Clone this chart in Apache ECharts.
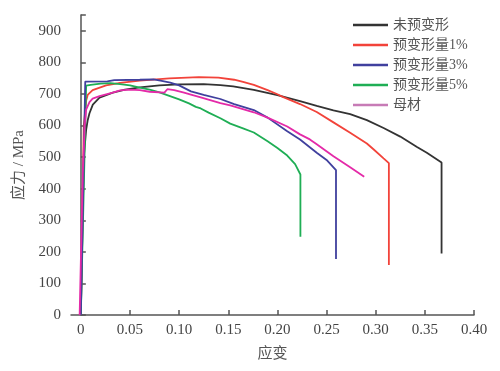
<!DOCTYPE html>
<html>
<head>
<meta charset="utf-8">
<script src="https://cdn.jsdelivr.net/npm/echarts@6/dist/echarts.min.js"></script>
<style>
html,body{margin:0;padding:0;background:#fff;}
#chart{width:500px;height:371px;}
</style>
</head>
<body>
<div id="chart"></div>
<script>
// Names
const seriesNames = ['未预变形', '预变形量1%', '预变形量3%', '预变形量5%', '母材'];
const xTickValues = [0, 0.05, 0.10, 0.15, 0.20, 0.25, 0.30, 0.35, 0.40];
const yTickValues = [0, 100, 200, 300, 400, 500, 600, 700, 800, 900];

// [strain, stress MPa]
const noPre = [[0,0],[0.003,500],[0.0054,586],[0.007,617],[0.0088,639],[0.0122,666],[0.019,688],[0.0325,704],[0.045,714],[0.06,721],[0.08,727],[0.1,730],[0.125,731],[0.142,728],[0.155,724],[0.176,713],[0.2,696],[0.223,677],[0.24,662],[0.257,648],[0.274,636],[0.291,617],[0.308,592],[0.325,565],[0.342,532],[0.352,514],[0.367,483],[0.367,195]];
const pre1 = [[0,0],[0.003,600],[0.0055,680],[0.007,697],[0.012,712],[0.0257,727],[0.04,735],[0.06,742],[0.09,749],[0.12,753],[0.14,752],[0.156,745],[0.165,738],[0.176,729],[0.19,712],[0.2,699],[0.206,690],[0.223,668],[0.24,643],[0.257,610],[0.274,577],[0.291,543],[0.298,524],[0.308,496],[0.3134,481],[0.3134,158]];
const pre3 = [[0,0],[0.0045,739],[0.027,740],[0.034,744],[0.06,745],[0.074,746],[0.081,742],[0.091,736],[0.1,727],[0.112,708],[0.125,697],[0.142,684],[0.156,668],[0.176,649],[0.19,625],[0.21,582],[0.223,556],[0.24,514],[0.25,491],[0.2596,459],[0.2596,177]];
const pre5 = [[0,0],[0.0054,726],[0.01,729],[0.02,733],[0.03,734],[0.04,731],[0.05,727],[0.06,720],[0.07,714],[0.08,705],[0.09,694],[0.1,683],[0.11,670],[0.117,659],[0.119,657],[0.122,654],[0.13,641],[0.142,623],[0.152,606],[0.165,591],[0.176,578],[0.19,550],[0.2,529],[0.21,505],[0.218,478],[0.2234,445],[0.2234,248]];
const baseMetal = [[-0.0012,0],[0.002,450],[0.004,600],[0.0054,650],[0.0088,674],[0.012,685],[0.019,693],[0.0325,704],[0.04,711],[0.05,714],[0.06,712],[0.07,707],[0.085,704],[0.088,715],[0.095,712],[0.105,704],[0.112,698],[0.122,689],[0.142,671],[0.152,664],[0.176,642],[0.19,625],[0.21,597],[0.223,572],[0.233,556],[0.24,541],[0.257,503],[0.274,468],[0.2883,438]];

const colors = ['#333333', '#f2433a', '#40409e', '#1fae55', '#e42aa8'];
const legendColors = ['#333333', '#f2433a', '#40409e', '#1fae55', '#c77bb6'];
const dataSets = [noPre, pre1, pre3, pre5, baseMetal];

const chart = echarts.init(document.getElementById('chart'), null, {renderer: 'canvas'});
const serif = '"Liberation Serif", "Times New Roman", "Noto Sans CJK SC", serif';
chart.setOption({
  backgroundColor: '#ffffff',
  animation: false,
  color: colors,
  grid: {left: 71, right: 26, top: 15, bottom: 56},
  legend: {
    orient: 'vertical',
    left: 348,
    top: 12,
    icon: 'rect',
    itemWidth: 35,
    itemHeight: 2.5,
    itemGap: 4,
    textStyle: {fontSize: 14, color: '#555', fontFamily: serif, lineHeight: 16},
    data: seriesNames.map((n, i) => ({name: n, itemStyle: {color: legendColors[i]}}))
  },
  xAxis: {
    type: 'value',
    min: -0.01,
    max: 0.4,
    name: '应变',
    nameLocation: 'middle',
    nameGap: 32,
    nameTextStyle: {fontSize: 15, color: '#555', fontFamily: serif},
    axisLine: {lineStyle: {color: '#555', width: 1.5}},
    axisTick: {inside: true, length: 5, customValues: xTickValues, lineStyle: {color: '#555', width: 1.5}},
    axisLabel: {customValues: xTickValues, margin: 8, fontSize: 15, color: '#444', fontFamily: serif,
      formatter: v => (v === 0 ? '0' : v.toFixed(2))},
    splitLine: {show: false}
  },
  yAxis: {
    type: 'value',
    min: 0,
    max: 950,
    interval: 100,
    name: '应力 / MPa',
    nameLocation: 'middle',
    nameGap: 44,
    nameTextStyle: {fontSize: 15, color: '#555', fontFamily: serif},
    axisLine: {show: true, lineStyle: {color: '#555', width: 1.5}},
    axisTick: {show: true, inside: true, length: 5, lineStyle: {color: '#555', width: 1.5}},
    axisLabel: {customValues: yTickValues, margin: 10, fontSize: 15, color: '#444', fontFamily: serif},
    splitLine: {show: false}
  },
  series: seriesNames.map((n, i) => ({
    name: n,
    type: 'line',
    data: dataSets[i],
    symbol: 'none',
    smooth: false,
    lineStyle: {width: 1.8, color: colors[i]},
    itemStyle: {color: colors[i]},
    z: [2, 3, 5, 4, 6][i]
  }))
});
</script>
</body>
</html>
